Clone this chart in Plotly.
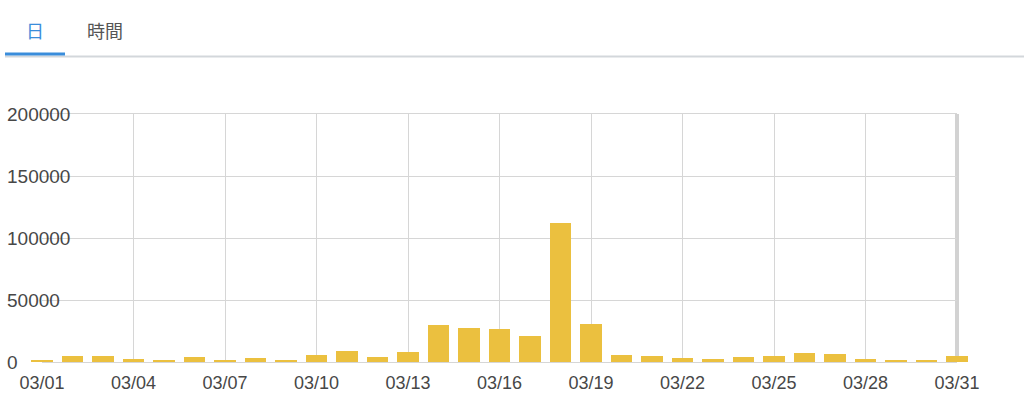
import plotly.graph_objects as go
import pandas as pd

# ---- data ----
days = [f"2020-03-{d:02d}" for d in range(1, 32)]
values = [1500, 4800, 4500, 2100, 2000, 3700, 2000, 3500, 2000, 5600,
          8800, 4300, 8000, 29700, 27600, 27000, 20900, 112000, 30500, 5600,
          4800, 2900, 2700, 4000, 4800, 7000, 6700, 2400, 1600, 1900, 4500]
y_ticks = [0, 50000, 100000, 150000, 200000]
tab_labels = ["日", "時間"]

# ---- layout geometry ----
W, H = 1024, 416
L, R, T, B = 42, 957, 114, 362
pad = 13
start = pd.Timestamp(days[0])
end = pd.Timestamp(days[-1])
px_per_day = (R - L) / (end - start).days
pad_td = pd.Timedelta(days=pad / px_per_day)

dom_x = [L / W, R / W]
dom_x2 = [(L - pad) / W, (R + pad) / W]
dom_y = [1 - B / H, 1 - T / H]

GRID = "#d6d6d6"
TXT = "#474747"
BAR = "#EBC03F"
FONT = "Liberation Sans, Arial, sans-serif"

fig = go.Figure()
# invisible trace to create the grid subplot
fig.add_trace(go.Scatter(x=[days[0]], y=[0], mode="markers",
                         marker=dict(opacity=0), hoverinfo="skip",
                         showlegend=False, xaxis="x", yaxis="y"))
fig.add_trace(go.Bar(x=days, y=values, marker=dict(color=BAR, line=dict(width=0)),
                     width=0.7 * 86400000, showlegend=False,
                     xaxis="x2", yaxis="y2"))

fig.update_layout(
    width=W, height=H,
    margin=dict(l=0, r=0, t=0, b=0, autoexpand=False),
    paper_bgcolor="white", plot_bgcolor="rgba(0,0,0,0)",
    font=dict(family=FONT, color=TXT),
    xaxis=dict(domain=dom_x, anchor="y", type="date", automargin=False,
               range=[start, end], tick0=days[0], dtick=3 * 86400000,
               tickformat="%m/%d", showgrid=True, gridcolor=GRID, gridwidth=1,
               zeroline=False, showline=True, mirror=True,
               linecolor=GRID, linewidth=1, ticks="",
               ticklabelstandoff=4,
               tickfont=dict(size=18, color=TXT, family=FONT)),
    yaxis=dict(domain=dom_y, anchor="x", range=[0, 200000], automargin=False,
               tickvals=y_ticks, tickformat="d",
               showgrid=True, gridcolor=GRID, gridwidth=1,
               zeroline=True, zerolinecolor=GRID, zerolinewidth=1,
               showline=False, ticks="",
               ticklabelposition="inside", ticklabelstandoff=-38,
               ticklabeloverflow="allow",
               tickfont=dict(size=19, color=TXT, family=FONT)),
    xaxis2=dict(domain=dom_x2, anchor="y2", type="date", automargin=False,
                range=[start - pad_td, end + pad_td], visible=False),
    yaxis2=dict(domain=dom_y, anchor="x2", range=[0, 200000], automargin=False,
                visible=False),
    bargap=0,
)

# right frame border
fig.add_shape(type="line", xref="paper", yref="paper",
              x0=R / W, x1=R / W, y0=dom_y[0], y1=dom_y[1],
              line=dict(color="#d2d2d2", width=4), layer="below")
# tab bar lines
fig.add_shape(type="line", xref="paper", yref="paper",
              x0=5 / W, x1=1, y0=1 - 56.5 / H, y1=1 - 56.5 / H,
              line=dict(color="#d3d7db", width=2))
fig.add_shape(type="line", xref="paper", yref="paper",
              x0=5 / W, x1=65 / W, y0=1 - 54 / H, y1=1 - 54 / H,
              line=dict(color="#3a8ddb", width=3))

fig.add_annotation(text=tab_labels[0], xref="paper", yref="paper",
                   x=34.5 / W, y=1 - 30 / H, showarrow=False,
                   xanchor="center", yanchor="middle",
                   font=dict(family="Noto Sans CJK JP", size=18, color="#3a8ddb"))
fig.add_annotation(text=tab_labels[1], xref="paper", yref="paper",
                   x=105 / W, y=1 - 30 / H, showarrow=False,
                   xanchor="center", yanchor="middle",
                   font=dict(family="Noto Sans CJK JP", size=18, color="#555555"))

fig.write_html("out.html",
               config=dict(displayModeBar=False),
               post_script="document.body.style.margin='0px';document.body.style.overflow='hidden';")
